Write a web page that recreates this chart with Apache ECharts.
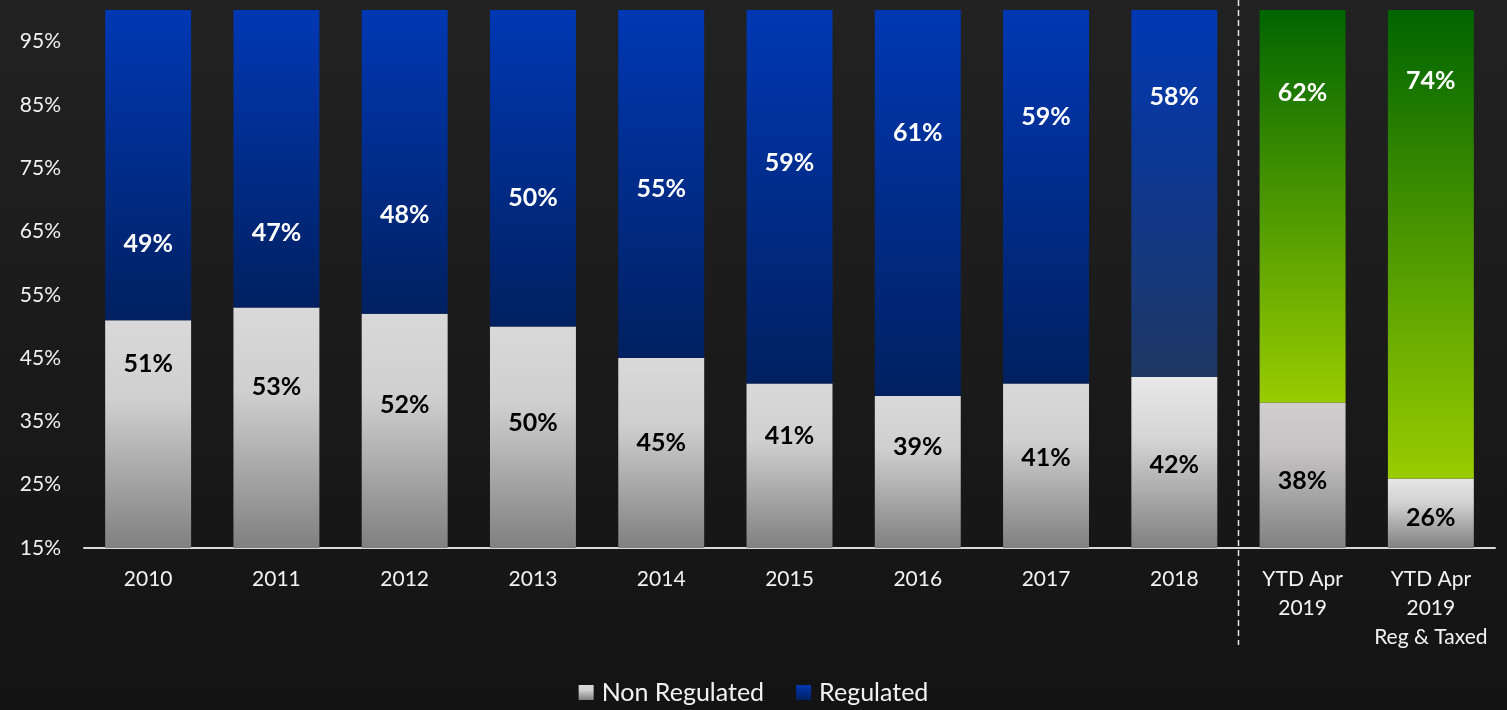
<!DOCTYPE html>
<html>
<head>
<meta charset="utf-8">
<script src="https://cdn.jsdelivr.net/npm/echarts@6/dist/echarts.min.js"></script>
<style>
  html, body { margin: 0; padding: 0; background: #1b1b1b; }
  #chart { width: 1507px; height: 710px; }
</style>
</head>
<body>
<div id="chart"></div>
<script>
// Share of activity: non regulated vs regulated, by year
const categories = ['2010', '2011', '2012', '2013', '2014', '2015', '2016', '2017', '2018',
  'YTD Apr\n2019', 'YTD Apr\n2019\nReg & Taxed'];
const nonRegulated = [51, 53, 52, 50, 45, 41, 39, 41, 42, 38, 26];
const regulated = [49, 47, 48, 50, 55, 59, 61, 59, 58, 62, 74];
const yTicks = [15, 25, 35, 45, 55, 65, 75, 85, 95];

// label nudges (px) so each value sits where it reads best inside its bar
const nonRegLabelShift = [-72, -43, -28, -16, -12, -32, -27, -10, 0, 4, 3];
const regLabelShift = [77, 72, 51, 28, 3, -36, -72, -82, -99, -115, -165];

function vGrad(top, bottom, mid) {
  const stops = [{ offset: 0, color: top }];
  if (mid) stops.push({ offset: 0.35, color: mid });
  stops.push({ offset: 1, color: bottom });
  return { type: 'linear', x: 0, y: 0, x2: 0, y2: 1, colorStops: stops };
}
const grayFill = vGrad('#d9d9d9', '#808080', '#cfcfcf');
const blueFill = vGrad('#0038b4', '#002060');
const fills = {
  nonReg: i => i === 8 ? vGrad('#e8e8e8', '#808080', '#d6d6d6')
    : i === 9 ? vGrad('#d0cece', '#808080', '#c4c2c2')
    : i === 10 ? vGrad('#e6e6e6', '#808080', '#d2d2d2') : grayFill,
  reg: i => i === 8 ? vGrad('#0038b4', '#1f3864')
    : i >= 9 ? vGrad('#006400', '#99cc00') : blueFill
};

const FONT = 'Lato, "Open Sans", sans-serif';
const chart = echarts.init(document.getElementById('chart'), null, { renderer: 'canvas' });

const option = {
  animation: false,
  backgroundColor: vGrad('#222222', '#131313'),
  textStyle: { fontFamily: FONT },
  grid: { left: 84, right: 12, top: 10, bottom: 162, containLabel: false },
  legend: {
    bottom: 0,
    left: 'center',
    itemWidth: 15,
    itemHeight: 15,
    itemGap: 32,
    icon: 'rect',
    textStyle: { color: '#f2f2f2', fontSize: 25, fontFamily: FONT, padding: [0, 0, 0, 3] },
    data: ['Non Regulated', 'Regulated']
  },
  xAxis: {
    type: 'category',
    data: categories,
    axisLine: { show: true, lineStyle: { color: '#d9d9d9', width: 2 } },
    axisTick: { show: false },
    axisLabel: { color: '#f2f2f2', fontSize: 21, lineHeight: 29, margin: 17, interval: 0, fontFamily: FONT },
    splitLine: { show: false }
  },
  yAxis: {
    type: 'value',
    min: yTicks[0],
    max: 100,
    interval: yTicks[1] - yTicks[0],
    axisLine: { show: false },
    axisTick: { show: false },
    splitLine: { show: false },
    axisLabel: { color: '#f2f2f2', fontSize: 21, margin: 23, showMaxLabel: false,
      formatter: '{value}%', fontFamily: FONT }
  },
  series: [
    {
      name: 'Non Regulated',
      type: 'bar',
      stack: 'share',
      barCategoryGap: '33%',
      itemStyle: { color: grayFill },
      data: nonRegulated.map((v, i) => ({
        value: v,
        itemStyle: { color: fills.nonReg(i) },
        label: { offset: [0, nonRegLabelShift[i] + 2] }
      })),
      label: { show: true, position: 'inside', color: '#000000', fontSize: 25,
        fontWeight: 'bold', fontFamily: FONT, formatter: '{c}%' }
    },
    {
      name: 'Regulated',
      type: 'bar',
      stack: 'share',
      barCategoryGap: '33%',
      itemStyle: { color: blueFill },
      data: regulated.map((v, i) => ({
        value: v,
        itemStyle: { color: fills.reg(i) },
        label: { offset: [0, regLabelShift[i] + 2] }
      })),
      label: { show: true, position: 'inside', color: '#ffffff', fontSize: 25,
        fontWeight: 'bold', fontFamily: FONT, formatter: '{c}%' }
    }
  ]
};
chart.setOption(option);

// dashed divider between full years and year-to-date
const xa = chart.convertToPixel({ xAxisIndex: 0 }, 8);
const xb = chart.convertToPixel({ xAxisIndex: 0 }, 9);
const divX = Math.round((xa + xb) / 2) + 0.5;
chart.setOption({
  graphic: [{
    type: 'line',
    shape: { x1: divX, y1: 0, x2: divX, y2: 645 },
    style: { stroke: '#e6e6e6', lineWidth: 1.5, lineDash: [6, 4] },
    z: 10
  }]
});
</script>
</body>
</html>
